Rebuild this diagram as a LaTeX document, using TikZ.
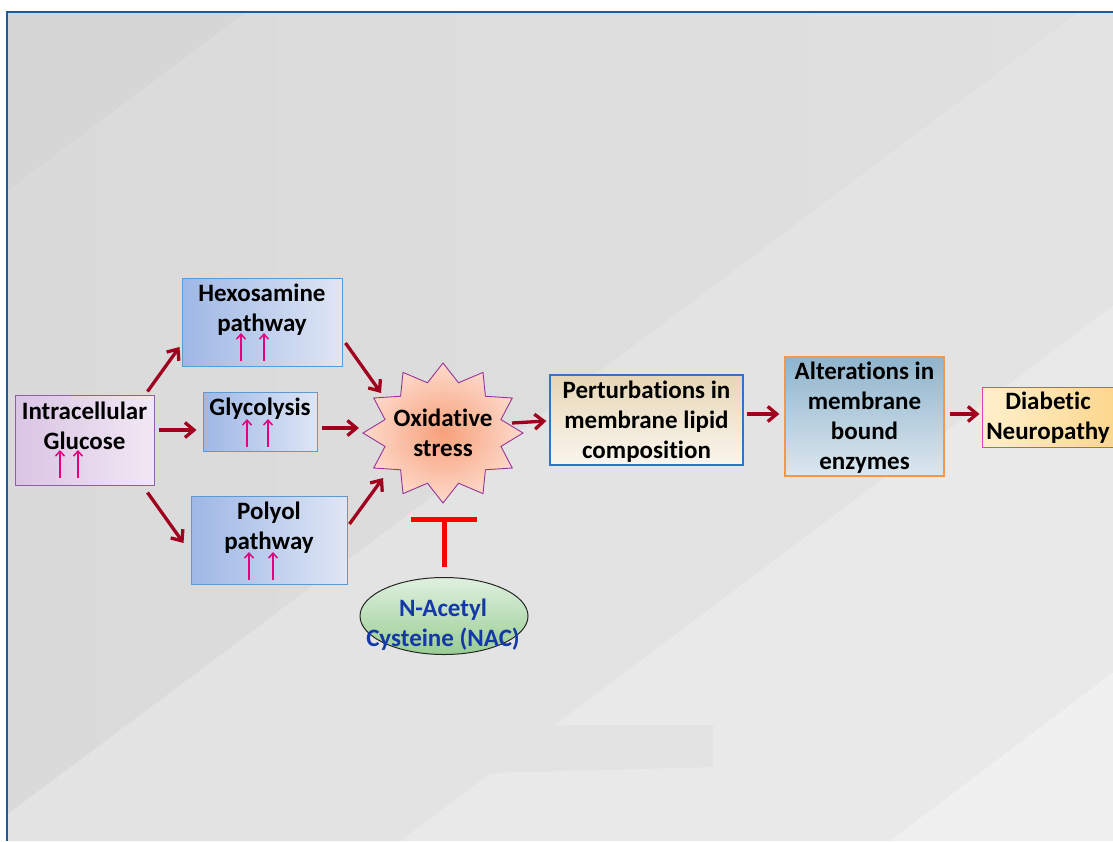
\documentclass[tikz,border=0pt]{standalone}
\usepackage{fontspec}
\setmainfont{Carlito}[Ligatures=NoCommon]
\usetikzlibrary{arrows.meta,calc,shapes.geometric}
\definecolor{arrred}{HTML}{A0001E}
\definecolor{pinkc}{HTML}{E6007E}
\definecolor{framec}{HTML}{215A98}
\definecolor{bgA}{HTML}{D6D6D6}
\definecolor{bgBl}{HTML}{DADADA}
\definecolor{bgBr}{HTML}{E0E0E0}
\definecolor{bgC}{HTML}{E3E3E3}
\definecolor{bgD}{HTML}{E9E9E9}
\definecolor{bgE}{HTML}{F0F0F0}
\definecolor{purpB}{HTML}{8E5EA8}
\definecolor{purpL}{HTML}{DAC4E4}
\definecolor{purpR}{HTML}{F1E8F4}
\definecolor{blueB}{HTML}{5B9BD5}
\definecolor{blueL}{HTML}{9EB7E5}
\definecolor{blueR}{HTML}{DFE6F5}
\definecolor{pertB}{HTML}{2E75C6}
\definecolor{pertT}{HTML}{E6D6B6}
\definecolor{pertBo}{HTML}{FAF6EE}
\definecolor{altB}{HTML}{F79646}
\definecolor{altT}{HTML}{8FB4CD}
\definecolor{altBo}{HTML}{DCE7EF}
\definecolor{diaB}{HTML}{E83FA8}
\definecolor{diaL}{HTML}{FEF0CC}
\definecolor{diaR}{HTML}{FCD68C}
\definecolor{nacT}{HTML}{E0F0DF}
\definecolor{nacBo}{HTML}{98CD93}
\definecolor{nacText}{HTML}{1538A8}
\definecolor{starIn}{HTML}{F7A07A}
\definecolor{starOut}{HTML}{FDDACB}
\definecolor{starB}{HTML}{993399}
\tikzset{
  lbl/.style={font=\fontsize{25}{30}\selectfont\bfseries, align=center, inner sep=0pt, text=black},
  boxshape/.style={rectangle, line width=1pt, inner sep=0pt},
  bluebox/.style={boxshape, draw=blueB, left color=blueL, right color=blueR},
  redarr/.style={draw=arrred, line width=3.3pt, -{Straight Barb[length=9pt,width=15pt,line width=3.3pt]}},
  uparr/.style={draw=pinkc, line width=1.5pt, -{Straight Barb[length=5pt,width=9pt]}},
  inhib/.style={draw=red, line width=5pt, -{Bar[width=66pt]}},
}
\begin{document}
\begin{tikzpicture}[x=1pt,y=-1pt]
\useasboundingbox (0,0) rectangle (1113,841);
% background
\fill[white] (0,0) rectangle (1113,841);
\fill[bgA] (7,12) -- (247,12) -- (7,192) -- cycle;
\shade[left color=bgBl, right color=bgBr] (247,12) -- (1080,12) -- (7,815) -- (7,192) -- cycle;
\fill[bgC] (1080,12) -- (1113,12) -- (1113,306) -- (401,841) -- (7,841) -- (7,815) -- cycle;
\fill[bgD] (1113,306) -- (1113,673) -- (890,841) -- (401,841) -- cycle;
\fill[bgE] (1113,673) -- (1113,841) -- (890,841) -- cycle;
\fill[bgC] (555,725) -- (713,725) -- (713,767) -- (490,773) -- cycle;
\draw[framec, line width=1.6pt] (7,841) -- (7,12) -- (1113,12);

% boxes
\node[boxshape, draw=purpB, left color=purpL, right color=purpR, minimum width=139pt, minimum height=90pt] (gluc) at (84.5,440) {};
\node[lbl] (glucT) at (84.5,426) {Intracellular\\Glucose};
\node[bluebox, minimum width=160pt, minimum height=88pt] (hexo) at (262,322) {};
\node[lbl] (hexoT) at (262,310) {Hexosamine\\pathway};
\node[bluebox, minimum width=114pt, minimum height=59pt] (glyc) at (260,421.5) {};
\node[lbl] (glycT) at (260,409) {Glycolysis};
\node[bluebox, minimum width=156pt, minimum height=88pt] (poly) at (269,540) {};
\node[lbl] (polyT) at (269,528) {Polyol\\pathway};
\node[boxshape, draw=pertB, line width=1.4pt, top color=pertT, bottom color=pertBo, minimum width=193pt, minimum height=90pt] (pert) at (646.5,420) {};
\node[lbl] (pertT) at (646.5,421.5) {Perturbations in\\membrane lipid\\composition};
\node[boxshape, draw=altB, line width=1.4pt, top color=altT, bottom color=altBo, minimum width=159pt, minimum height=119pt] (alter) at (864.5,416.5) {};
\node[lbl] (alterT) at (864.5,417.5) {Alterations in\\membrane\\bound\\enzymes};
\node[boxshape, draw=diaB, left color=diaL, right color=diaR, minimum width=134pt, minimum height=60pt] (diab) at (1049,417) {};
\node[lbl] (diabT) at (1048,418) {Diabetic\\Neuropathy};

% star
\path[draw=starB, line width=0.9pt, shade, inner color=starIn, outer color=starOut]
  plot[variable=\k, samples at={0,...,23}] ({443+(80-20*mod(\k,2))*cos(90+15*\k)}, {433-(70-18*mod(\k,2))*sin(90+15*\k)}) -- cycle;
\node[lbl] (ox) at (443,433) {Oxidative\\stress};

% NAC
\node[ellipse, draw=black!85, line width=1pt, top color=nacT, bottom color=nacBo, minimum width=168pt, minimum height=77pt, inner sep=0pt] (nac) at (444,616) {};
\node[lbl, text=nacText] (nacT) at (443,624.5) {N-Acetyl\\Cysteine (NAC)};

% pink up arrows
\foreach \x in {60,78} \draw[uparr] (\x,478) -- (\x,450);
\foreach \x in {241,264} \draw[uparr] (\x,361) -- (\x,333);
\foreach \x in {247,268} \draw[uparr] (\x,447) -- (\x,419);
\foreach \x in {249,273} \draw[uparr] (\x,580) -- (\x,552);

% connectors
\draw[redarr] ($(gluc.north east)+(-7,-3)$) -- ($(hexo.west)+(-2,25)$);
\draw[redarr] ($(gluc.east)+(4,-10)$) -- ($(glyc.west)+(-6,8.5)$);
\draw[redarr] ($(gluc.south east)+(-7,7)$) -- ($(poly.west)+(-7,3)$);
\draw[redarr] ($(hexo.east)+(3,21)$) -- ($(ox)+(-62,-40)$);
\draw[redarr] ($(glyc.east)+(4,6.5)$) -- ($(ox)+(-84,-5)$);
\draw[redarr] ($(poly.east)+(2,-16)$) -- ($(ox)+(-60,45)$);
\draw[redarr] ($(ox)+(69,-10)$) -- ($(pert.west)+(-3,1)$);
\draw[redarr] ($(pert.east)+(3,-6)$) -- ($(alter.west)+(-5,-2.5)$);
\draw[redarr] ($(alter.east)+(5,-2.5)$) -- ($(diab.west)+(-2,-3)$);

% inhibition
\draw[inhib] ($(nac.north)+(0,-10)$) -- ($(ox)+(1,84)$);
\end{tikzpicture}
\end{document}
